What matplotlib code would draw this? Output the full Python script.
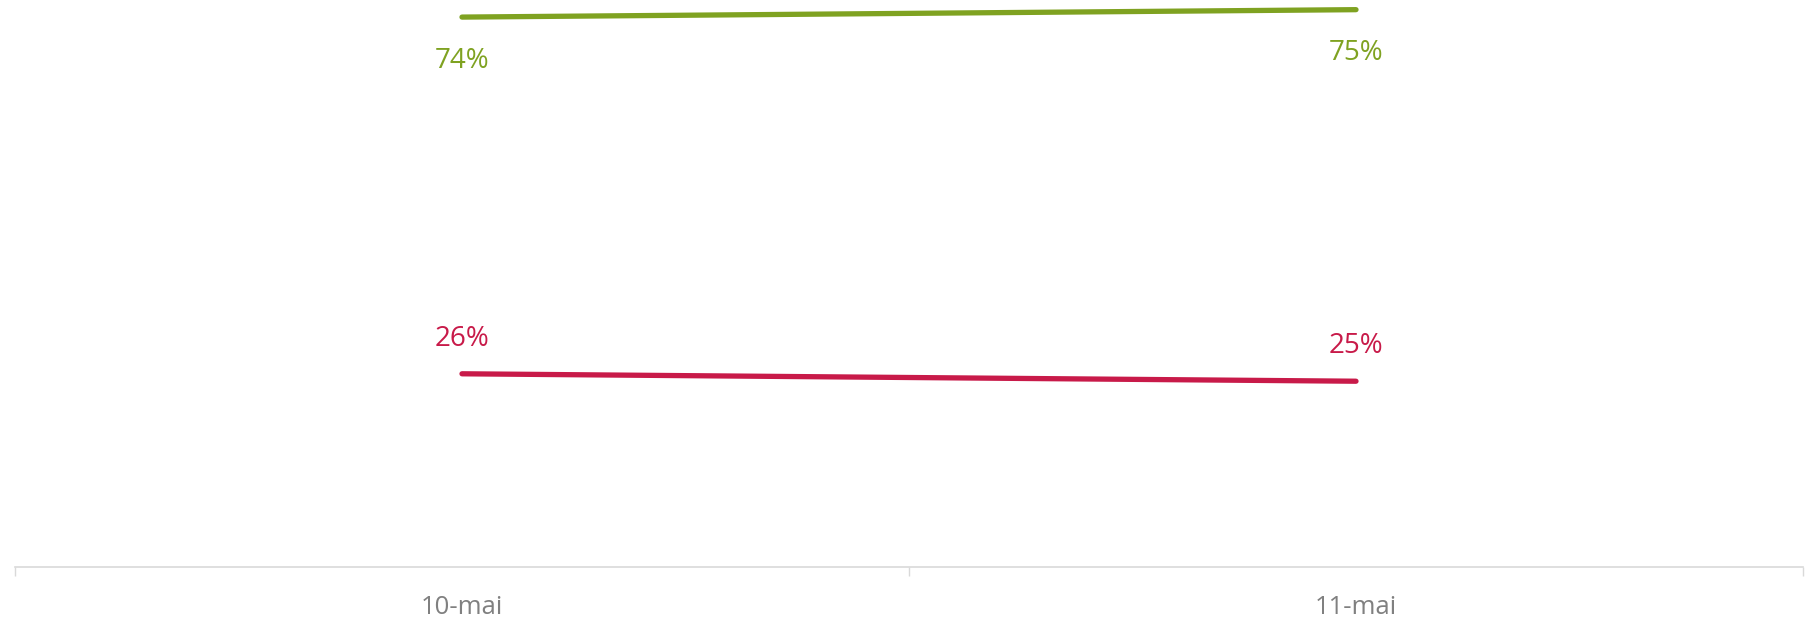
import matplotlib.pyplot as plt

# share of answers per day (percent)
dates = ['10-mai', '11-mai']
green_vals = [74, 75]
red_vals = [26, 25]

GREEN = '#7FA221'
RED = '#C81A49'
AXIS_GREY = '#D9D9D9'
TEXT_GREY = '#808080'

plt.rcParams['font.family'] = ['Open Sans', 'DejaVu Sans']

fig = plt.figure(figsize=(18.15, 6.2), dpi=100)
ax = fig.add_axes([15 / 1815, 53 / 620, 1788 / 1815, 567 / 620])

x = list(range(len(dates)))
ax.plot(x, green_vals, color=GREEN, lw=3.8, solid_capstyle='round', clip_on=False)
ax.plot(x, red_vals, color=RED, lw=3.8, solid_capstyle='round', clip_on=False)

# labels: green below the line, red above
for xi, v in zip(x, green_vals):
    ax.annotate(f'{v}%', (xi, v), xytext=(0, -31.5), textcoords='offset points',
                ha='center', va='center', color=GREEN, fontsize=20)
for xi, v in zip(x, red_vals):
    ax.annotate(f'{v}%', (xi, v), xytext=(0, 25), textcoords='offset points',
                ha='center', va='center', color=RED, fontsize=20)

ax.set_xlim(-0.5, len(dates) - 0.5)
ax.set_ylim(0, 76.3)

# band boundaries get the little tick marks, labels sit in the middle
ax.set_xticks([i - 0.5 for i in range(len(dates) + 1)])
ax.set_xticklabels([])
ax.set_xticks(x, minor=True)
ax.set_xticklabels(dates, minor=True)
ax.tick_params(axis='x', which='major', length=6.5, color=AXIS_GREY, width=1)
ax.tick_params(axis='x', which='minor', length=0, pad=20, labelsize=18.5, labelcolor=TEXT_GREY)
ax.set_yticks([])

for side in ['top', 'left', 'right']:
    ax.spines[side].set_visible(False)
ax.spines['bottom'].set_color(AXIS_GREY)
ax.spines['bottom'].set_linewidth(1.2)

fig.savefig('out.png', dpi=100)
